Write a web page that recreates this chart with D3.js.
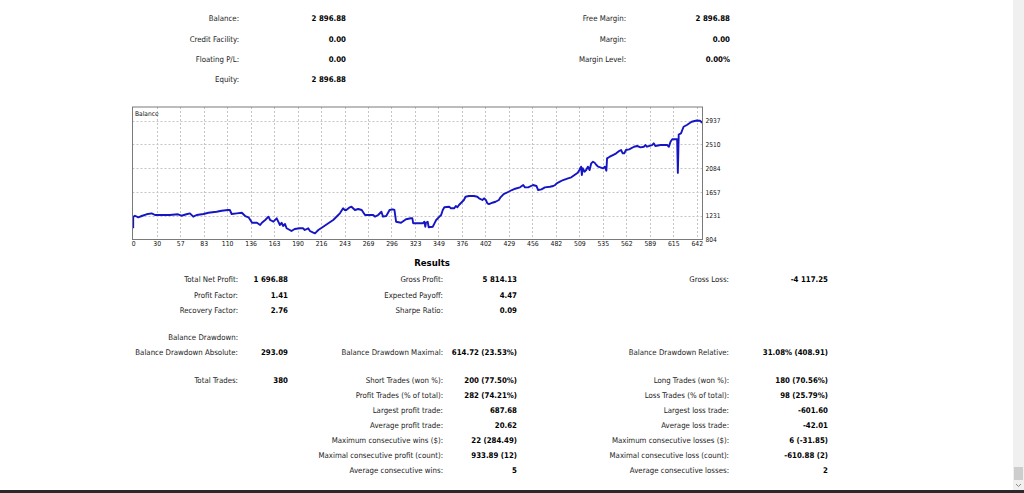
<!DOCTYPE html>
<html><head><meta charset="utf-8">
<script src="https://cdn.jsdelivr.net/npm/d3@7/dist/d3.min.js"></script>
<style>html,body{margin:0;padding:0;background:#fff;overflow:hidden}</style>
</head><body>
<svg id="c" width="1024" height="493"></svg>
<script>
// ---------- data ----------
const xTickLabels = [0,30,57,83,110,136,163,190,216,243,269,296,323,349,376,402,429,456,482,509,535,562,589,615,642];
const yTickValues = [804,1231,1657,2084,2510,2937];
const tradeNo = [0,0,2.3,6.5,10.9,17,23.6,27.9,45,54.5,58.4,64,67.8,71.5,75.3,82.9,88.5,98,103.7,111,113,115,120.7,126.3,130,133.7,137.7,143.3,147,149,152.8,156.5,158.5,162.2,166,169.7,171.6,173.5,175.6,177.4,181.1,183,186.7,192.3,196,198,201.8,203.7,207.4,209.3,213,218.5,224.4,230,235.8,237.7,241.4,243.3,245,248.8,250.7,254.5,258.2,262,265.7,275,277,280.7,284.4,286.3,290,293.8,297.5,299.4,301.3,307,312.7,318.3,320,321,331.6,333.4,334.5,335.2,337.1,338.2,342.7,344.6,346.5,350.2,352.1,354,355.8,361.4,363.3,367,369,370.8,372.6,376.3,378.2,380,383.8,389.4,393.1,395,398.7,400.6,402.5,404.3,406.2,410,413.7,417.5,419.4,423,428.7,432.5,436.2,441.8,445.5,447.5,451.2,456.8,460.5,462.4,466.1,469.9,475.5,479.2,481.2,483,486.7,490.4,496,499.8,503.5,507.2,509.1,511,511.8,512.9,514.7,516.6,518.5,520.4,522.2,524.1,526,527.9,529.8,535.4,537.3,539.1,539.9,543,546.7,550.4,554.2,556,557.9,559.7,561.6,565.3,570.9,574.6,578.4,582.1,584,585.9,591.5,593.4,595.2,600.8,608.3,610.2,612,613.9,617.6,619.5,620.3,621.3,623.9,626.9,630.6,636.2,642,645.7,648.4];
const balance = [1005,1210,1230,1202,1225,1256,1273,1243,1243,1256,1230,1256,1273,1213,1243,1261,1284,1302,1320,1333,1333,1261,1273,1284,1225,1202,1105,1105,1064,1105,1153,1213,1153,1123,1184,1064,1105,1046,1082,1005,974,956,992,1005,1005,974,1005,956,926,915,974,1033,1094,1153,1243,1273,1363,1333,1333,1381,1392,1333,1351,1333,1243,1243,1213,1243,1302,1213,1225,1333,1345,1333,1123,1105,1166,1184,1184,1094,1094,1123,1033,1105,1123,1023,1033,1094,1153,1213,1243,1333,1381,1392,1363,1363,1404,1381,1422,1481,1512,1571,1583,1583,1571,1542,1512,1542,1512,1453,1440,1463,1481,1512,1560,1619,1660,1691,1714,1739,1781,1739,1739,1781,1763,1691,1703,1739,1750,1763,1781,1811,1840,1870,1901,1918,1960,2001,2049,2109,1960,2080,2019,2049,2109,2049,2169,2198,2180,2139,2109,2080,2109,2037,2259,2288,2318,2349,2395,2408,2349,2349,2408,2420,2467,2480,2456,2467,2497,2467,2497,2528,2480,2497,2497,2467,2557,2600,2600,2600,1998,2686,2707,2825,2856,2915,2937,2933,2897];

const summaryLeftLabels = ["Balance:","Credit Facility:","Floating P/L:","Equity:"];
const summaryLeftValues = ["2 896.88","0.00","0.00","2 896.88"];
const summaryRightLabels = ["Free Margin:","Margin:","Margin Level:"];
const summaryRightValues = ["2 896.88","0.00","0.00%"];

const resultsRows = [
  ["Total Net Profit:","1 696.88","Gross Profit:","5 814.13","Gross Loss:","-4 117.25"],
  ["Profit Factor:","1.41","Expected Payoff:","4.47","",""],
  ["Recovery Factor:","2.76","Sharpe Ratio:","0.09","",""],
  ["Balance Drawdown:","","","","",""],
  ["Balance Drawdown Absolute:","293.09","Balance Drawdown Maximal:","614.72 (23.53%)","Balance Drawdown Relative:","31.08% (408.91)"],
  ["Total Trades:","380","Short Trades (won %):","200 (77.50%)","Long Trades (won %):","180 (70.56%)"],
  ["","","Profit Trades (% of total):","282 (74.21%)","Loss Trades (% of total):","98 (25.79%)"],
  ["","","Largest profit trade:","687.68","Largest loss trade:","-601.60"],
  ["","","Average profit trade:","20.62","Average loss trade:","-42.01"],
  ["","","Maximum consecutive wins ($):","22 (284.49)","Maximum consecutive losses ($):","6 (-31.85)"],
  ["","","Maximal consecutive profit (count):","933.89 (12)","Maximal consecutive loss (count):","-610.88 (2)"],
  ["","","Average consecutive wins:","5","Average consecutive losses:","2"]
];

// ---------- layout ----------
const F = "'DejaVu Sans', Verdana, sans-serif";
const FS = 7.8;
const svg = d3.select("#c");

function text(x, y, s, anchor, bold, size, fill, stretch) {
  svg.append("text")
    .attr("x", x).attr("y", y)
    .attr("dy", "0.35em")
    .attr("text-anchor", anchor)
    .attr("font-family", F)
    .attr("font-size", size || FS)
    .attr("font-weight", bold ? "bold" : "normal")
    .style("font-stretch", stretch || "condensed")
    .attr("fill", fill || (bold ? "#000" : "#1a1a1a"))
    .text(s);
}

// summary block
const topRowY = [18.5, 39, 59, 79];
summaryLeftLabels.forEach((l, i) => {
  text(239, topRowY[i], l, "end", false);
  text(346, topRowY[i], summaryLeftValues[i], "end", true);
});
summaryRightLabels.forEach((l, i) => {
  text(626, topRowY[i], l, "end", false);
  text(730, topRowY[i], summaryRightValues[i], "end", true);
});

// chart
const box = {l: 132.5, r: 702.5, t: 107, b: 239.5};
const x = d3.scaleLinear()
  .domain(xTickLabels)
  .range(xTickLabels.map((d, i) => 133.2 + i * 23.48));
const y = d3.scaleLinear().domain([804, 2937]).range([239.5, 120.5]);

svg.append("rect").attr("x", box.l).attr("y", box.t)
  .attr("width", box.r - box.l).attr("height", box.b - box.t)
  .attr("fill", "#fff");

const grid = svg.append("g").attr("stroke", "#c4c4c4").attr("stroke-width", 1)
  .attr("stroke-dasharray", "2,2");
xTickLabels.slice(1).forEach(v => {
  const px = Math.round(x(v)) + 0.5;
  grid.append("line").attr("x1", px).attr("x2", px).attr("y1", box.t).attr("y2", box.b);
});
yTickValues.slice(1).forEach(v => {
  const py = Math.round(y(v)) + 0.5;
  grid.append("line").attr("x1", box.l).attr("x2", box.r).attr("y1", py).attr("y2", py);
});

svg.append("clipPath").attr("id", "clip").append("rect")
  .attr("x", box.l).attr("y", box.t).attr("width", box.r - box.l).attr("height", box.b - box.t);

const pts = tradeNo.map((t, i) => [t, balance[i]]);
svg.append("path")
  .datum(pts)
  .attr("clip-path", "url(#clip)")
  .attr("fill", "none")
  .attr("stroke", "#1515c4")
  .attr("stroke-width", 1.9)
  .attr("stroke-linejoin", "round")
  .attr("d", d3.line().x(d => x(d[0])).y(d => y(d[1])));

svg.append("rect").attr("x", box.l).attr("y", box.t)
  .attr("width", box.r - box.l).attr("height", box.b - box.t)
  .attr("fill", "none").attr("stroke", "#7a7a7a").attr("stroke-width", 1);

text(135, 113.5, "Balance", "start", false, 6.6, "#111");

const xAxis = svg.append("g").attr("transform", `translate(0,${box.b})`)
  .call(d3.axisBottom(x).tickValues(xTickLabels).tickSize(0).tickPadding(2).tickFormat(d3.format("d")));
xAxis.select(".domain").remove();
xAxis.selectAll("text").attr("font-family", F).attr("font-size", 6.8).style("font-stretch", "condensed").attr("fill", "#111");

const yAxis = svg.append("g").attr("transform", `translate(${box.r},0)`)
  .call(d3.axisRight(y).tickValues(yTickValues).tickSize(0).tickPadding(3).tickFormat(d3.format("d")));
yAxis.select(".domain").remove();
yAxis.selectAll("text").attr("font-family", F).attr("font-size", 6.6).style("font-stretch", "condensed").attr("fill", "#111");

// results
text(432, 263, "Results", "middle", true, 9.5);
const rowY = [279, 295, 310, 337, 352, 380, 395, 410.5, 425.5, 440.5, 455, 470];
const labelRight = [238, 443, 729];
const valueRight = [288, 517, 828];
resultsRows.forEach((row, i) => {
  for (let c = 0; c < 3; c++) {
    if (row[c * 2]) text(labelRight[c], rowY[i], row[c * 2], "end", false);
    if (row[c * 2 + 1]) text(valueRight[c], rowY[i], row[c * 2 + 1], "end", true);
  }
});

// window chrome: scrollbar and bottom edge
svg.append("rect").attr("x", 1013).attr("y", 0).attr("width", 11).attr("height", 490).attr("fill", "#f0f0f0");
svg.append("rect").attr("x", 1014).attr("y", 467).attr("width", 9).attr("height", 13).attr("fill", "#cdcdcd");
svg.append("path").attr("d", "M1016,484 L1018.5,486.5 L1021,484").attr("fill", "none").attr("stroke", "#8a8a8a").attr("stroke-width", 1);
svg.append("rect").attr("x", 0).attr("y", 490).attr("width", 1024).attr("height", 3).attr("fill", "#2a2a2a");
</script>
</body></html>
